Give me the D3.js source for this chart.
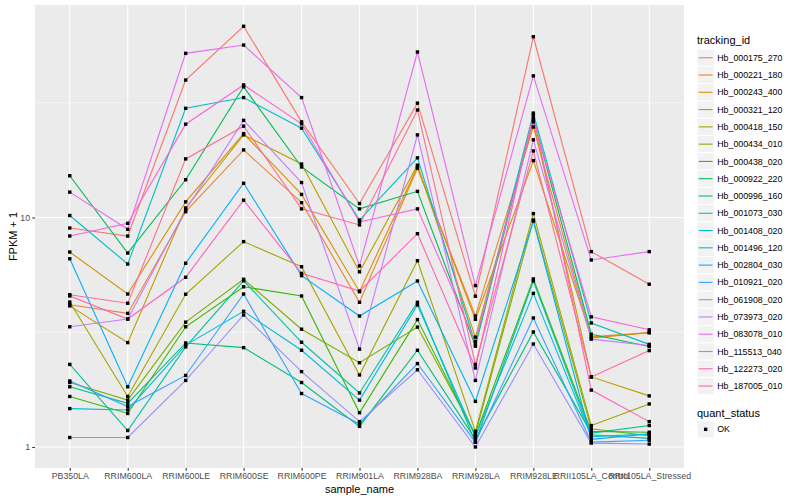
<!DOCTYPE html>
<html><head><meta charset="utf-8">
<script src="https://cdn.jsdelivr.net/npm/d3@7"></script>
<style>body{margin:0;background:#fff} text{font-family:"Liberation Sans",Arial,Helvetica,sans-serif}</style>
</head><body><svg id="c" width="800" height="500"></svg>
<script>
const samples = ["PB350LA","RRIM600LA","RRIM600LE","RRIM600SE","RRIM600PE","RRIM901LA","RRIM928BA","RRIM928LA","RRIM928LE","RRII105LA_Control","RRII105LA_Stressed"];
const trackingIds = ["Hb_000175_270","Hb_000221_180","Hb_000243_400","Hb_000321_120","Hb_000418_150","Hb_000434_010","Hb_000438_020","Hb_000922_220","Hb_000996_160","Hb_001073_030","Hb_001408_020","Hb_001496_120","Hb_002804_030","Hb_010921_020","Hb_061908_020","Hb_073973_020","Hb_083078_010","Hb_115513_040","Hb_122273_020","Hb_187005_010"];
const colors = ["#F8766D","#EA8331","#D89000","#C09B00","#A3A500","#7CAE00","#39B600","#00BB4E","#00BF7D","#00C1A3","#00BFC4","#00BAE0","#00B0F6","#35A2FF","#9590FF","#C77CFF","#E76BF3","#FA62DB","#FF62BC","#FF6C91"];
// FPKM + 1 per sample (order of samples)
const hb_000175_270 = [9.0, 8.3, 39.7, 68.1, 26.1, 11.5, 31.5, 4.54, 61.3, 7.1, 5.12];
const hb_000221_180 = [4.17, 3.82, 10.6, 19.7, 11.6, 4.27, 16.4, 3.72, 24.8, 2.98, 3.15];
const hb_000243_400 = [7.07, 4.64, 11.7, 23.2, 12.6, 4.75, 16.6, 3.60, 17.7, 3.02, 3.15];
const hb_000321_120 = [4.12, 2.85, 11.0, 22.9, 17.1, 5.80, 16.9, 3.01, 26.1, 2.02, 1.67];
const hb_000418_150 = [4.28, 1.66, 4.63, 7.85, 6.10, 2.06, 6.48, 1.17, 10.4, 1.24, 1.54];
const hb_000434_010 = [1.91, 1.60, 3.50, 5.38, 3.26, 2.33, 3.33, 1.14, 9.75, 1.20, 1.12];
const hb_000438_020 = [1.66, 1.40, 3.34, 4.99, 4.55, 1.41, 3.59, 1.12, 5.40, 1.17, 1.16];
const hb_000922_220 = [15.2, 7.0, 14.6, 37.1, 16.6, 10.9, 13.0, 2.75, 27.3, 3.10, 2.74];
const hb_000996_160 = [1.83, 1.55, 2.84, 2.71, 1.91, 1.23, 2.64, 1.08, 3.17, 1.15, 1.24];
const hb_001073_030 = [2.29, 1.18, 2.73, 5.30, 2.86, 1.72, 4.27, 1.05, 5.29, 1.13, 1.09];
const hb_001408_020 = [10.2, 6.27, 29.9, 33.3, 24.5, 9.75, 18.2, 2.81, 28.5, 3.47, 2.80];
const hb_001496_120 = [1.47, 1.45, 2.78, 3.90, 2.64, 1.60, 4.16, 1.11, 4.67, 1.11, 1.14];
const hb_002804_030 = [6.61, 1.83, 6.32, 14.1, 5.58, 3.72, 5.29, 1.58, 9.65, 1.08, 1.14];
const hb_010921_020 = [1.94, 1.50, 2.05, 4.64, 1.71, 1.26, 2.31, 1.05, 3.65, 1.05, 1.07];
const hb_061908_020 = [1.10, 1.10, 1.95, 3.76, 2.13, 1.29, 2.17, 1.00, 2.81, 1.04, 1.03];
const hb_073973_020 = [3.34, 3.61, 10.8, 26.5, 14.2, 2.67, 22.9, 1.95, 21.8, 2.95, 2.77];
const hb_083078_010 = [12.9, 8.88, 51.9, 56.4, 33.3, 6.15, 52.6, 5.05, 41.4, 6.53, 7.10];
const hb_115513_040 = [8.31, 9.43, 25.5, 37.8, 25.6, 9.56, 10.9, 2.88, 26.6, 3.69, 3.24];
const hb_122273_020 = [4.55, 3.61, 5.49, 11.9, 5.71, 4.78, 8.50, 2.21, 28.0, 1.77, 1.29];
const hb_187005_010 = [4.61, 4.23, 18.0, 25.0, 10.9, 9.28, 29.4, 2.29, 19.5, 2.02, 2.63];
const seriesValues = [hb_000175_270,hb_000221_180,hb_000243_400,hb_000321_120,hb_000418_150,hb_000434_010,hb_000438_020,hb_000922_220,hb_000996_160,hb_001073_030,hb_001408_020,hb_001496_120,hb_002804_030,hb_010921_020,hb_061908_020,hb_073973_020,hb_083078_010,hb_115513_040,hb_122273_020,hb_187005_010];
const yMajorTicks = [1, 10];
const yMinorTicks = [Math.sqrt(10), Math.sqrt(1000)];

const svg = d3.select("#c");
const L = 35, R = 684, T = 5, B = 468;
const x = d3.scalePoint().domain(samples).range([L, R]).padding(0.6);
const y = d3.scaleLog().domain([0.81, 84.3]).range([B, T]);

svg.append("rect").attr("x", L).attr("y", T).attr("width", R - L).attr("height", B - T).attr("fill", "#EBEBEB");
const g = svg.append("g");
g.selectAll(".ymin").data(yMinorTicks).join("line")
  .attr("x1", L).attr("x2", R).attr("y1", d => y(d)).attr("y2", d => y(d))
  .attr("stroke", "#fff").attr("stroke-width", 0.55);
g.selectAll(".ymaj").data(yMajorTicks).join("line")
  .attr("x1", L).attr("x2", R).attr("y1", d => y(d)).attr("y2", d => y(d))
  .attr("stroke", "#fff").attr("stroke-width", 1.1);
g.selectAll(".xmaj").data(samples).join("line")
  .attr("x1", d => x(d)).attr("x2", d => x(d)).attr("y1", T).attr("y2", B)
  .attr("stroke", "#fff").attr("stroke-width", 1.1);

const data = trackingIds.map((id, i) => ({id, color: colors[i], vals: seriesValues[i]}));
const line = d3.line().x((v, j) => x(samples[j])).y(v => y(v));
svg.append("g").selectAll("path").data(data).join("path")
  .attr("d", d => line(d.vals)).attr("fill", "none")
  .attr("stroke", d => d.color).attr("stroke-width", 1.1);
const pts = [];
data.forEach(d => d.vals.forEach((v, j) => pts.push({s: samples[j], v})));
svg.append("g").selectAll("rect").data(pts).join("rect")
  .attr("x", d => x(d.s) - 1.7).attr("y", d => y(d.v) - 1.7)
  .attr("width", 3.4).attr("height", 3.4).attr("fill", "#000");

// axes
const ya = svg.append("g").attr("transform", `translate(${L},0)`)
  .call(d3.axisLeft(y).tickValues(yMajorTicks).tickFormat(d3.format("d")).tickSize(2.75).tickPadding(2.2));
const xa = svg.append("g").attr("transform", `translate(0,${B})`)
  .call(d3.axisBottom(x).tickSize(2.75).tickPadding(2.2));
[ya, xa].forEach(a => {
  a.select(".domain").remove();
  a.selectAll(".tick line").attr("stroke", "#333333").attr("stroke-width", 1.1);
  a.selectAll(".tick text").attr("fill", "#4D4D4D").attr("font-size", 8.8)
    .style("font-family", '"Liberation Sans",Arial,sans-serif');
});
svg.append("text").attr("x", (L + R) / 2).attr("y", 493).attr("text-anchor", "middle")
  .attr("font-size", 11).attr("fill", "#000").text("sample_name");
svg.append("text").attr("transform", `translate(17,${(T + B) / 2}) rotate(-90)`).attr("text-anchor", "middle")
  .attr("font-size", 11).attr("fill", "#000").text("FPKM + 1");

// legend
const lx = 697, ky0 = 49.1, kh = 17.28;
svg.append("text").attr("x", lx).attr("y", 44).attr("font-size", 11).attr("fill", "#000").text("tracking_id");
const lg = svg.append("g").selectAll("g").data(data).join("g")
  .attr("transform", (d, i) => `translate(${lx},${ky0 + i * kh})`);
lg.append("rect").attr("width", kh).attr("height", kh).attr("fill", "#F2F2F2").attr("stroke", "#fff").attr("stroke-width", 1);
lg.append("line").attr("x1", 1.7).attr("x2", kh - 1.7).attr("y1", kh / 2).attr("y2", kh / 2)
  .attr("stroke", d => d.color).attr("stroke-width", 1.1);
lg.append("text").attr("x", kh + 3).attr("y", kh / 2 + 3.1).attr("font-size", 8.8).attr("fill", "#000").text(d => d.id);
svg.append("text").attr("x", lx).attr("y", 416.5).attr("font-size", 11).attr("fill", "#000").text("quant_status");
const ok = svg.append("g").attr("transform", `translate(${lx},${420.7})`);
ok.append("rect").attr("width", kh).attr("height", kh).attr("fill", "#F2F2F2").attr("stroke", "#fff");
ok.append("rect").attr("x", kh / 2 - 1.7).attr("y", kh / 2 - 1.7).attr("width", 3.4).attr("height", 3.4).attr("fill", "#000");
ok.append("text").attr("x", kh + 3).attr("y", kh / 2 + 3.1).attr("font-size", 8.8).attr("fill", "#000").text("OK");
</script></body></html>
